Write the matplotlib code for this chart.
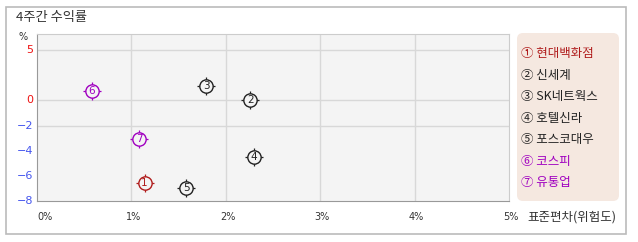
import matplotlib
matplotlib.use("Agg")
import numpy as np
import matplotlib.pyplot as plt
from matplotlib.patches import Rectangle, FancyBboxPatch
from matplotlib.transforms import IdentityTransform

plt.rcParams['font.family'] = ['Noto Sans CJK KR', 'DejaVu Sans']

names = ['현대백화점', '신세계', 'SK네트웍스', '호텔신라', '포스코대우', '코스피', '유통업']
marks = ['①', '②', '③', '④', '⑤', '⑥', '⑦']
risk = [1.14, 2.26, 1.79, 2.30, 1.58, 0.58, 1.08]      # 표준편차 (%)
ret = [-6.6, 0.0, 1.45, -4.5, -6.95, 0.9, -3.05]       # 4주간 수익률 (%)
colors = ['#b01c1c', '#222222', '#222222', '#222222', '#222222', '#a000c0', '#a000c0']
xticks = [0, 1, 2, 3, 4, 5]
yticks = [5, 0, -2, -4, -6, -8]
ygrid = [5, 0, -2]

W, H = 638, 242
fig = plt.figure(figsize=(W / 100, H / 100), dpi=100)


def px(x, y):
    return x / W, 1 - y / H


# outer frame
fig.patches.append(Rectangle((6, H - 234), 620, 227, transform=IdentityTransform(),
                             fill=False, edgecolor='#bbbbbb', linewidth=1.2))

ax = fig.add_axes([37 / W, (H - 201) / H, 472 / W, 167 / H])
ax.set_facecolor('#f4f4f4')


# y axis is stretched differently above and below zero
def f_fwd(y):
    y = np.asarray(y, dtype=float)
    return np.where(y >= 0, y * 0.8, y)


def f_inv(t):
    t = np.asarray(t, dtype=float)
    return np.where(t >= 0, t / 0.8, t)


ax.set_yscale('function', functions=(f_fwd, f_inv))
ax.set_xlim(0, 5)
ax.set_ylim(-8, 6.6)

for x in xticks[1:-1]:
    ax.axvline(x, color='#d8d8d8', linewidth=1, zorder=0)
for y in ygrid:
    ax.axhline(y, color='#d8d8d8', linewidth=1, zorder=0)

for s in ['top', 'right']:
    ax.spines[s].set_color('#cccccc')
for s in ['left', 'bottom']:
    ax.spines[s].set_color('#999999')

ax.set_xticks(xticks)
ax.set_xticklabels([])
ax.set_yticks(yticks)
ax.set_yticklabels([])
ax.tick_params(length=0)

# tick labels
for x in xticks:
    xp = 37 + x * 94.4
    ha = 'left' if x == 0 else 'center'
    fig.text(*px(xp + (0 if x == 0 else 2), 217), f'{x}%', fontsize=7, ha=ha, va='center',
             color='#333333', family=['DejaVu Sans'])
for y in yticks:
    t = ax.transData.transform((0, y))[1]
    fig.text(33 / W, t / H, str(y).replace('-', '\u2212'), fontsize=8, ha='right', va='center',
             color='#ee1111' if y >= 0 else '#4455ee', family=['DejaVu Sans'])

fig.text(*px(23, 37), '%', fontsize=7, ha='center', va='center', color='#333333',
         family=['DejaVu Sans'])
fig.text(*px(16, 18), '4주간 수익률', fontsize=9.5, ha='left', va='center', color='#333333')
fig.text(*px(527, 217), '표준편차(위험도)', fontsize=9, ha='left', va='center', color='#333333')

# points
for i in range(len(names)):
    ax.scatter(risk[i], ret[i], marker='+', s=165, color=colors[i], linewidths=0.9, zorder=3)
    ax.scatter(risk[i], ret[i], marker='o', s=92, facecolor='#f4f4f4', edgecolor=colors[i],
               linewidths=1.0, zorder=4)
    ax.text(risk[i], ret[i], str(i + 1), fontsize=7.5, ha='center', va='center',
            color=colors[i], zorder=5, family=['DejaVu Sans'])

# legend panel
fig.patches.append(FancyBboxPatch((520, H - 198), 96, 162, transform=IdentityTransform(),
                                  boxstyle='round,pad=3,rounding_size=6',
                                  facecolor='#f5e8e0', edgecolor='none'))
for i in range(len(names)):
    fig.text(*px(521, 54 + i * 21.4), marks[i] + ' ' + names[i], fontsize=9,
             ha='left', va='center', color=colors[i])

fig.savefig('out.png', dpi=100)
